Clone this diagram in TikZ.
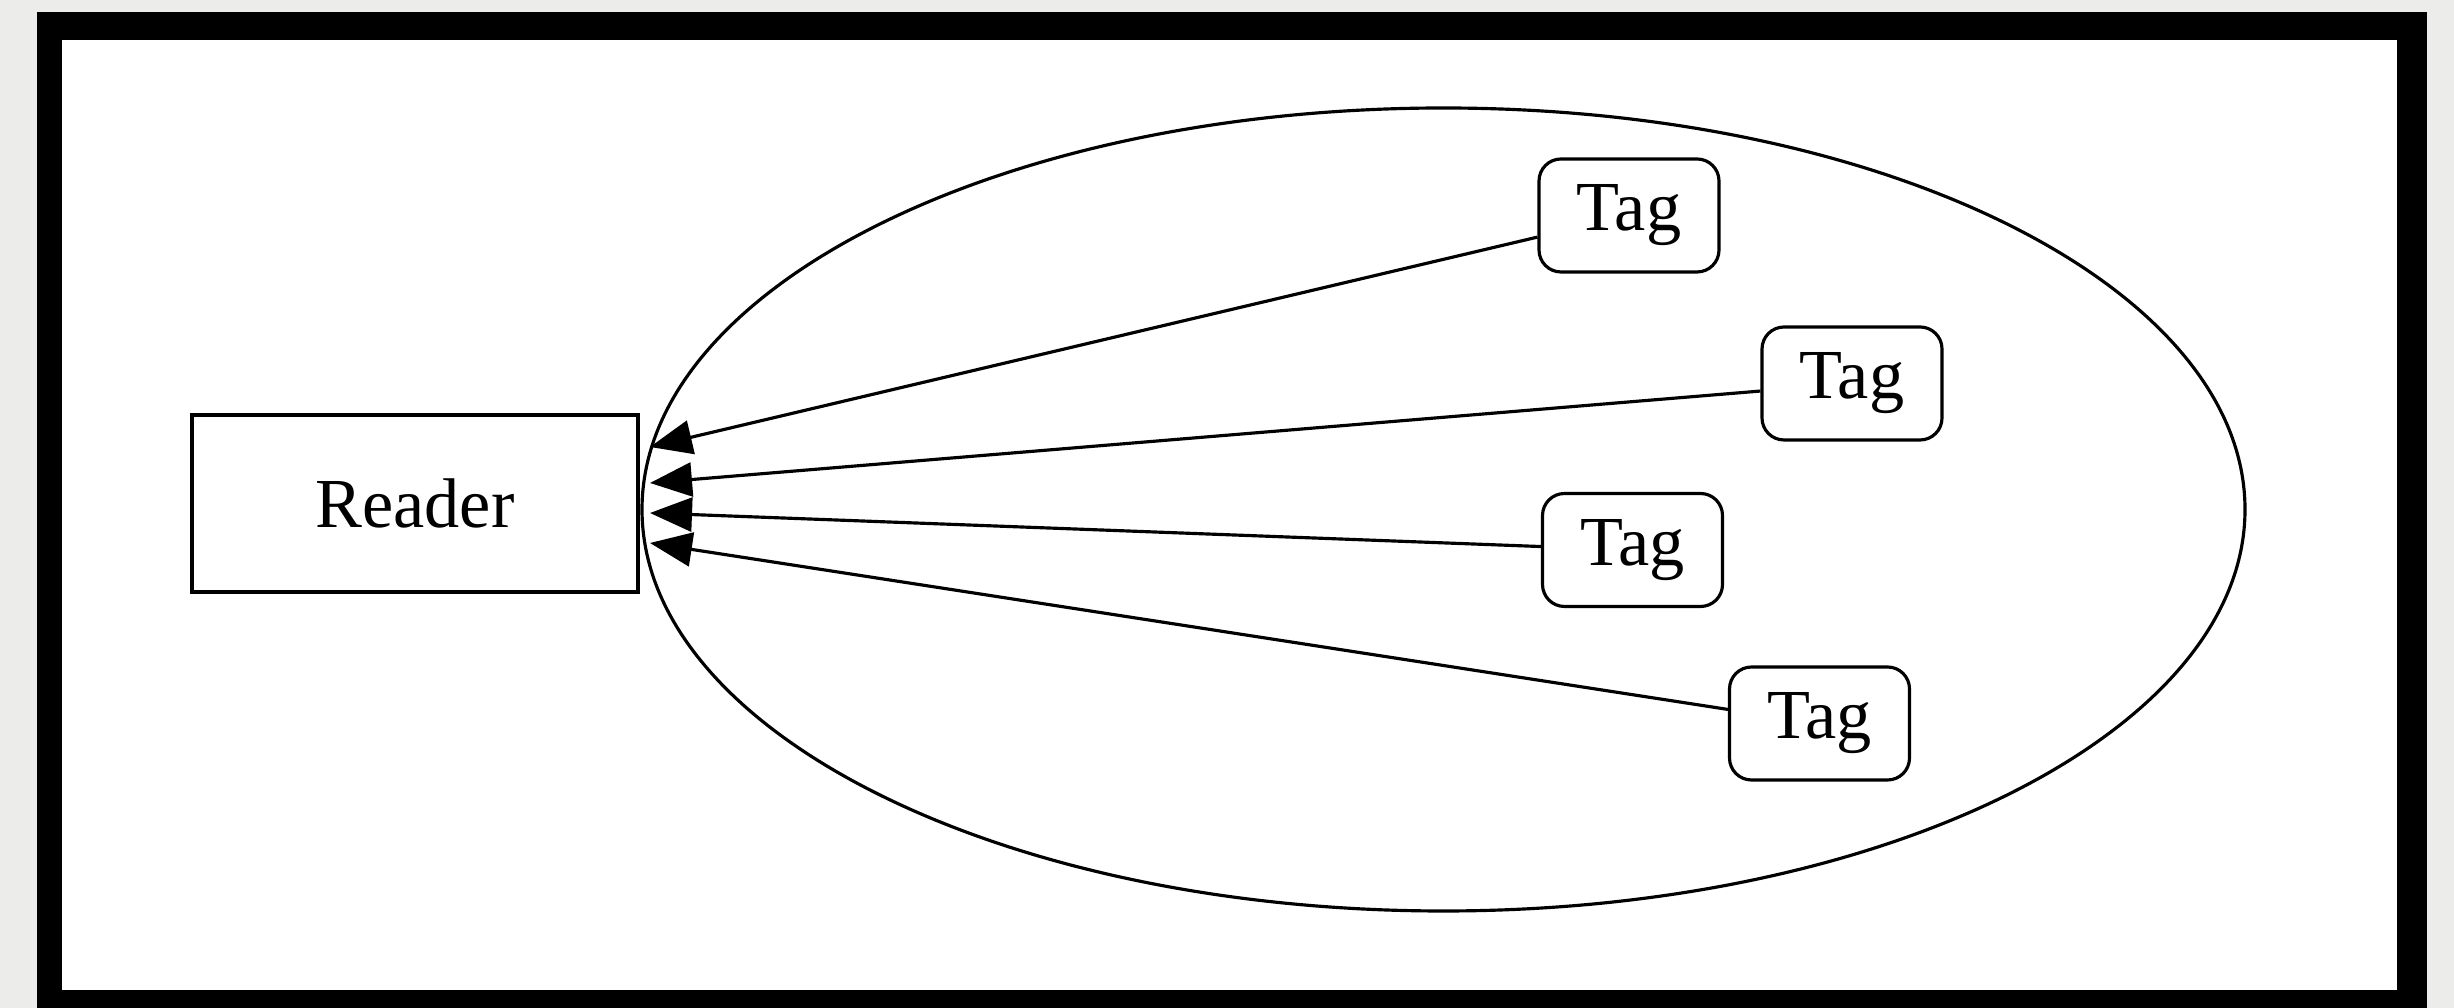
\documentclass[tikz,border=0pt]{standalone}
\usepackage{fontspec}
\setmainfont{Liberation Serif}
\usetikzlibrary{shapes.geometric,arrows.meta}
\definecolor{paper}{HTML}{ECECEA}
\begin{document}
\begin{tikzpicture}[line width=0.9pt, every node/.style={font=\fontsize{20}{24}\selectfont}]
	\tikzstyle{block} = [draw,rectangle,minimum width=4.46cm,minimum height=1.77cm]
	\tikzstyle{tag} = [draw,rectangle,rounded corners=0.22cm,minimum width=1.8cm,minimum height=1.13cm,inner sep=0pt]
	\tikzstyle{arr} = [-{Triangle[length=4.2mm,width=3.4mm]}]
	% paper and the thick frame round it
	\useasboundingbox (0,0) rectangle (24.54,10.08);
	\fill[paper] (0,0) rectangle (24.54,10.08);
	\fill[black] (0.37,-0.1) rectangle (24.27,9.96);
	\fill[white] (0.62,0.18) rectangle (23.97,9.68);
	\node[draw,ellipse,minimum width=16.03cm,minimum height=8.03cm,inner sep=0pt](field)at(14.435,4.985){};
	\node[block](reader)at(4.15,5.045){Reader};
	\node[tag](tag1)at(16.29,7.925){Tag};
	\node[tag](tag2)at(18.52,6.245){Tag};
	\node[tag](tag3)at(16.325,4.58){Tag};
	\node[tag](tag4)at(18.195,2.845){Tag};
	% arrow tips just right of the reader
	\coordinate(in1)at(6.5,5.61);
	\coordinate(in2)at(6.5,5.25);
	\coordinate(in3)at(6.5,4.95);
	\coordinate(in4)at(6.5,4.65);
	\path[arr] (tag1) edge (in1)
	(tag2) edge (in2)
	(tag3) edge (in3)
	(tag4) edge (in4);
\end{tikzpicture}
\end{document}
